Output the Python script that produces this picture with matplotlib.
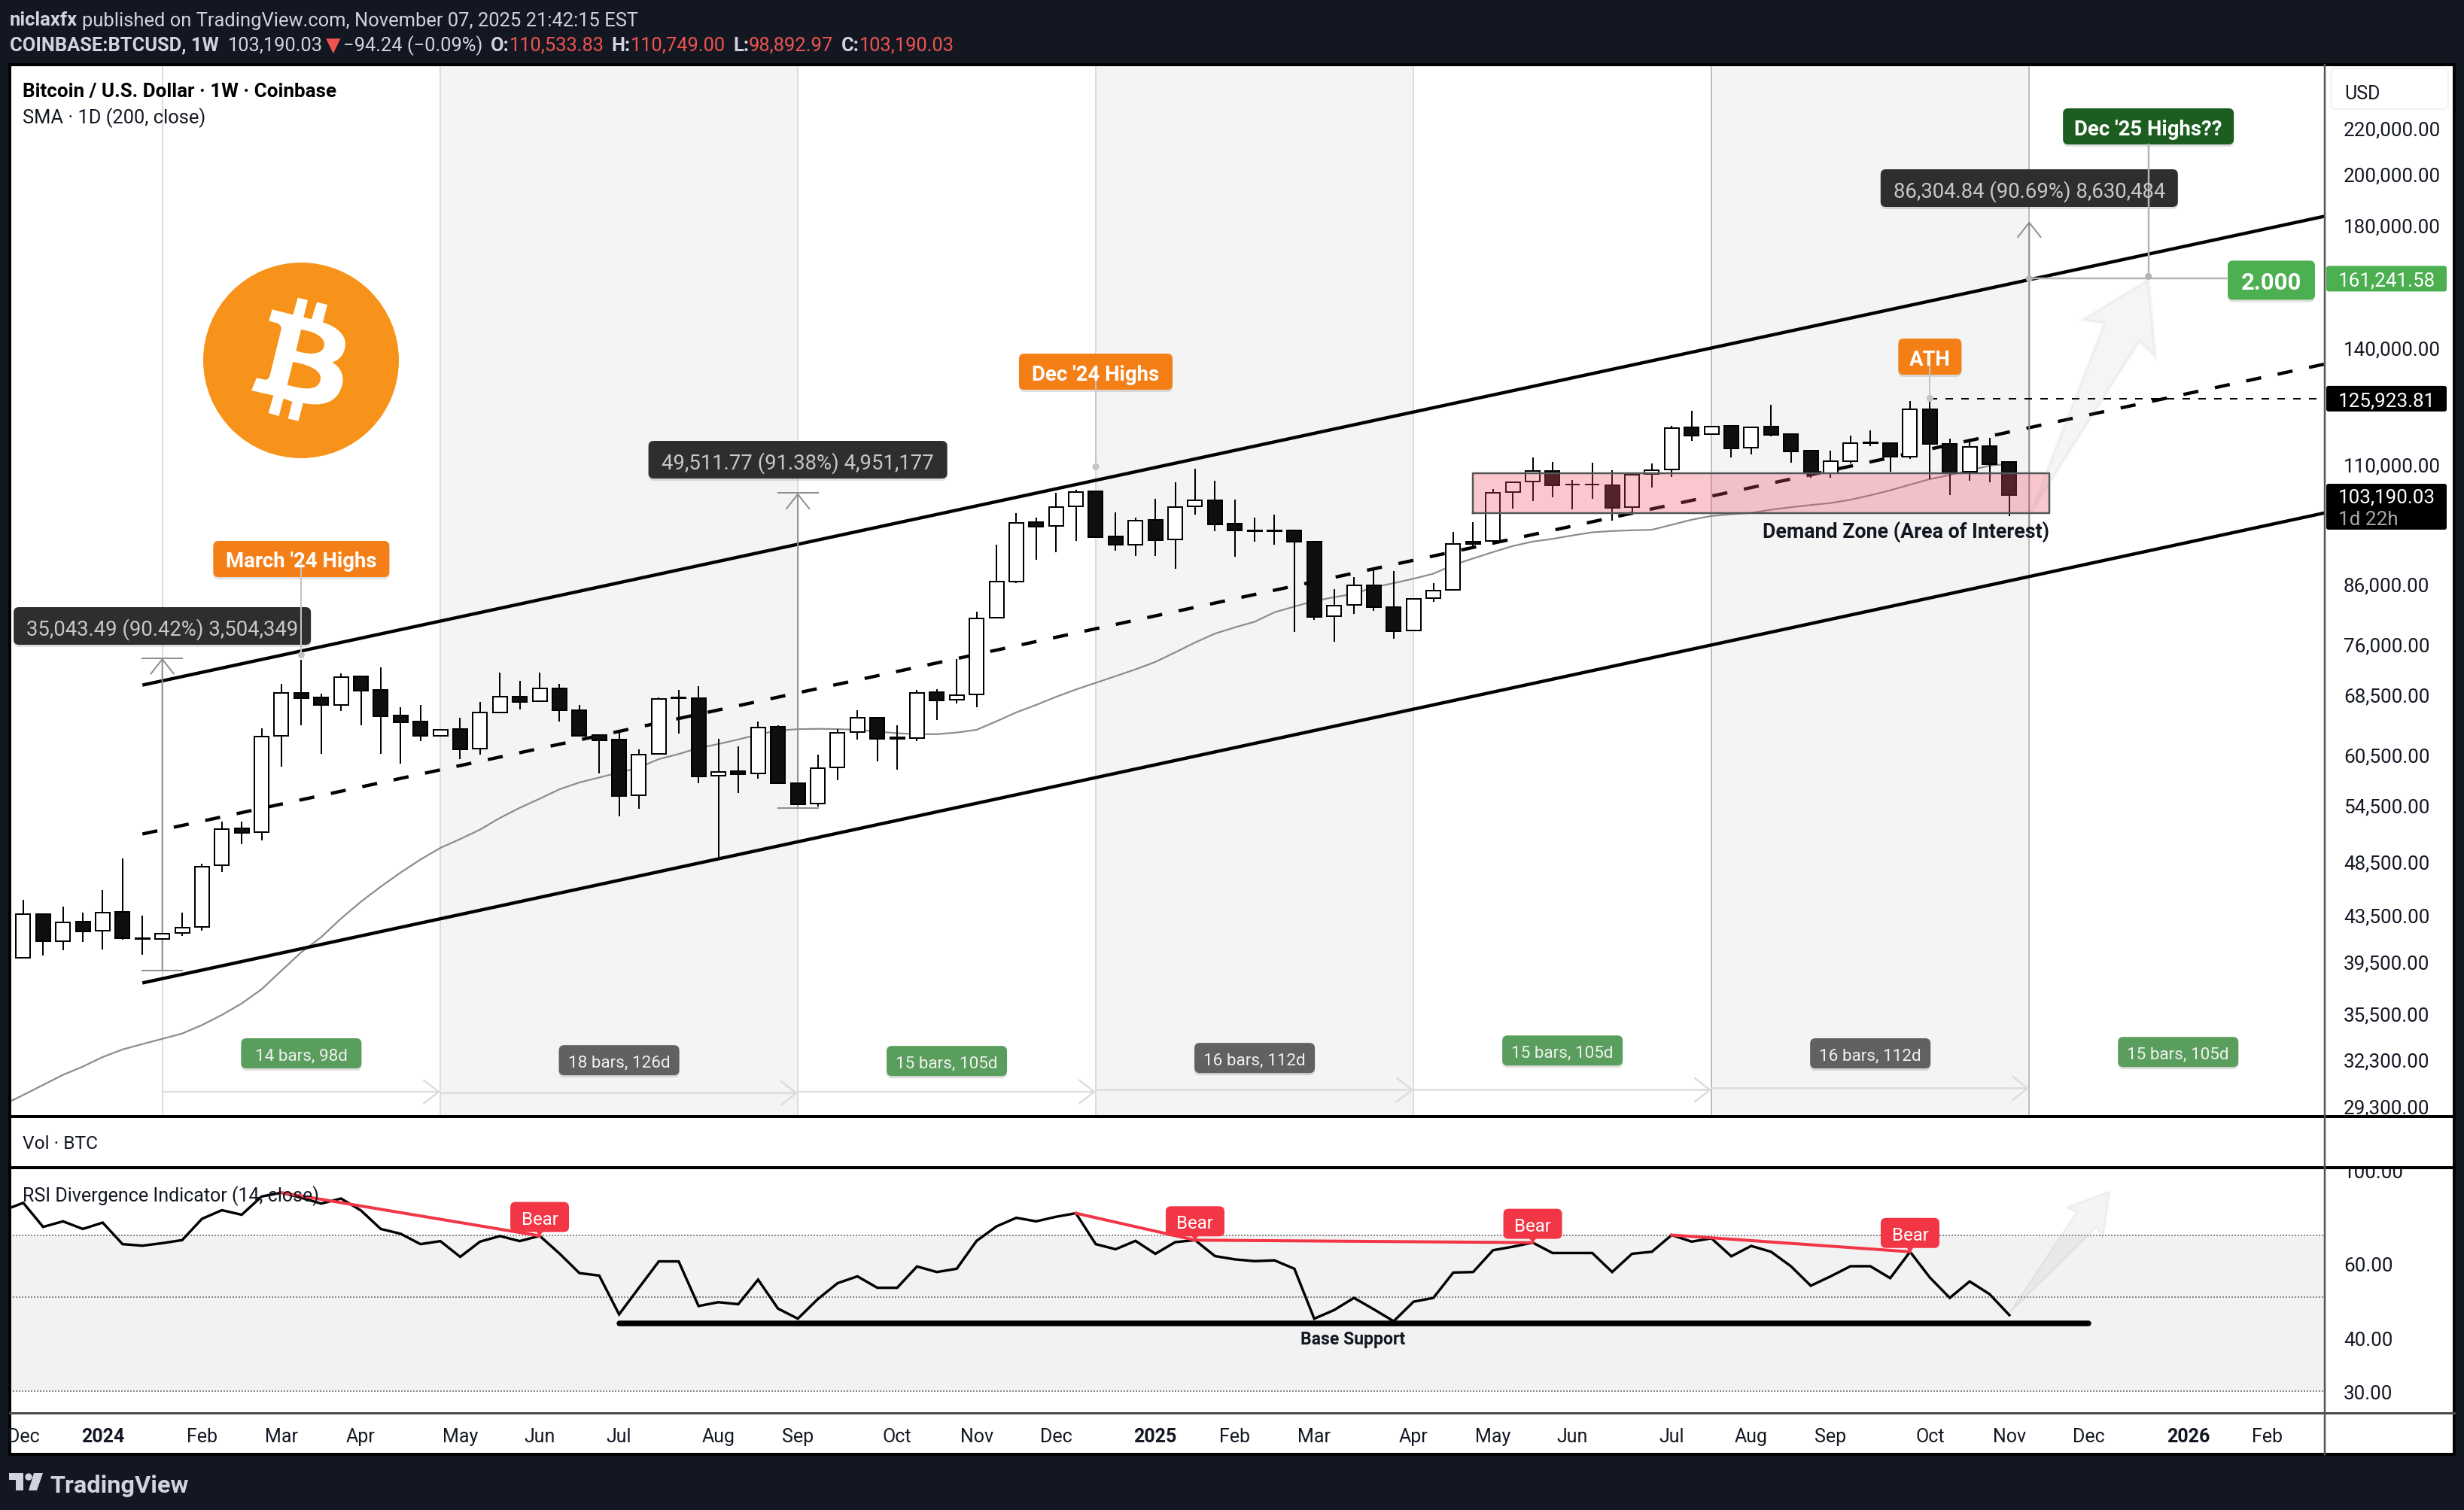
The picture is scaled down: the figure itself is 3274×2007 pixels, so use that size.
import matplotlib
matplotlib.use('Agg')
import matplotlib.pyplot as plt
from matplotlib.patches import FancyBboxPatch, Circle, Polygon, PathPatch
from matplotlib.path import Path
from matplotlib.ticker import NullLocator

plt.rcParams['font.family'] = ['Roboto', 'DejaVu Sans']

W, H = 3274, 2008
PX = 0.72  # px -> pt at dpi 100

# --- weekly candles, Dec 2023 to Nov 2025 ---
opens = [39780, 43520, 41170, 42840, 42060, 43710, 41460, 41370, 41870, 42400,
         48150, 51920, 51530, 62860, 68710, 68090, 66990, 71020, 69050, 65520,
         64700, 62860, 63700, 61220, 65930, 68180, 67500, 69350, 66290, 62940,
         62420, 55600, 60550, 67950, 67950, 57890, 58410, 58170, 64030, 57060,
         54660, 58900, 63330, 65290, 62510, 62560, 68730, 67700, 68450, 80130,
         86430, 97680, 96880, 100850, 104030, 94740, 93190, 98050, 94160, 100850,
         102170, 97270, 96050, 95780, 95920, 93840, 80390, 82300, 85770, 81970,
         78060, 83480, 84940, 93770, 93900, 103880, 106150, 108520, 105590, 105590,
         105330, 100680, 107800, 108760, 118630, 116980, 119000, 113840, 118810, 116980,
         113070, 108070, 110700, 114920, 114980, 111810, 123210, 114740, 108330, 114150,
         110533.83]
highs = [44810, 43520, 44190, 43650, 45750, 48860, 43380, 41870, 43680, 48280,
         52680, 52720, 63800, 69970, 73490, 68570, 71500, 71020, 72440, 66640,
         66950, 63700, 65200, 67410, 71650, 70350, 71650, 69970, 66950, 62950,
         63560, 61180, 68090, 69110, 69680, 62460, 61560, 64790, 64210, 57060,
         60430, 63770, 66240, 65290, 64220, 69070, 69210, 73600, 81190, 93130,
         99460, 98620, 103670, 104390, 104100, 99600, 98620, 102470, 106010, 108950,
         106290, 102240, 98550, 99180, 96050, 93970, 84990, 87210, 88720, 88300,
         83400, 86180, 95640, 97610, 104530, 106230, 111640, 110480, 106480, 110350,
         108650, 107800, 110130, 119000, 122810, 118900, 119310, 118700, 124340, 117100,
         113190, 113070, 116620, 117960, 115160, 125240, 125923.81, 115950, 115950, 116080,
         110749.00]
lows = [39700, 40000, 40390, 41090, 40500, 41290, 40050, 41310, 41640, 42100,
        47520, 50300, 50680, 59020, 64210, 60550, 66200, 64210, 60550, 59390,
        62200, 62800, 59950, 60510, 65930, 66380, 67400, 64790, 62900, 58160,
        53260, 54130, 60500, 63200, 56980, 48860, 55910, 57570, 57000, 54600,
        54320, 57370, 62340, 59600, 58660, 62210, 64960, 67240, 66660, 80020,
        86130, 90400, 91780, 93970, 94600, 92100, 91000, 91000, 88720, 99180,
        95860, 90920, 93840, 93130, 77900, 79770, 76350, 80800, 81360, 76830,
        78000, 82900, 84940, 92490, 93130, 100430, 101960, 102800, 100180, 102430,
        97980, 99150, 104900, 107140, 115480, 116900, 111590, 112310, 116500, 110350,
        106980, 106980, 110240, 114150, 108330, 111230, 106590, 103300, 106310, 106030,
        98892.97]
closes = [43520, 41150, 42780, 42040, 43680, 41430, 41340, 41810, 42340, 48020,
          51880, 51490, 62770, 68670, 67950, 66950, 70980, 69010, 65470, 64660,
          62820, 63650, 61180, 65980, 68130, 67450, 69300, 66290, 62900, 62330,
          55560, 60470, 67860, 68090, 57850, 58370, 58090, 63990, 57060, 54620,
          58810, 63290, 65240, 62510, 62650, 68690, 67650, 68360, 80070, 86370,
          97540, 96810, 100710, 103960, 94680, 93130, 97990, 94100, 100710, 102100,
          97200, 96050, 95780, 95990, 93840, 80340, 82190, 85710, 81970, 78010,
          83360, 84820, 93320, 93380, 103740, 106010, 108440, 105350, 105430, 105510,
          100530, 107690, 108700, 118570, 116740, 118880, 113720, 118690, 116920, 113010,
          107960, 110750, 114860, 115100, 111750, 123150, 114740, 108010, 114030, 110070,
          103190.03]

# SMA 1D (200), one reading per weekly bar, first one just left of the chart
sma = [29400, 29990, 30620, 31260, 31800, 32430, 32940, 33310, 33670, 34040, 34640,
       35370, 36220, 37290, 38750, 40250, 41520, 43140, 44660, 46070, 47430,
       48720, 49900, 50820, 51820, 53080, 54200, 55220, 56310, 57100, 57690,
       58280, 58890, 59920, 60550, 61300, 61810, 62390, 63030, 63560, 63730,
       63780, 63740, 63650, 63420, 63200, 63080, 63080, 63290, 63650, 64770,
       65980, 67000, 68120, 69160, 70120, 71090, 72090, 73200, 74660, 76190,
       77600, 78600, 79520, 81090, 82050, 83000, 83650, 84230, 85400, 86100,
       86900, 87800, 89400, 90600, 91800, 92950, 93800, 94330, 95000, 95620,
       95870, 96020, 96120, 97110, 98120, 98890, 99250, 99510, 100180, 100680,
       101140, 101560, 102250, 103200, 104260, 105480, 106700, 107590, 108650, 109680,
       110130]

# RSI 14 weekly, first one just left of the chart
rsi = [80.27, 83.66, 73.39, 75.65, 72.58, 75.13, 66.82, 66.26, 67.18, 68.30, 76.70,
       80.38, 78.41, 86.59, 88.40, 86.00, 83.32, 85.64, 80.27, 72.58, 70.71,
       66.82, 67.93, 62.36, 67.74, 69.83, 67.93, 69.92, 63.49, 57.09, 56.31,
       45.60, 52.70, 60.83, 60.83, 47.72, 48.72, 48.19, 55.08, 47.06, 44.54,
       49.53, 54.03, 56.08, 52.70, 52.70, 59.18, 57.41, 58.45, 68.02, 73.58,
       77.12, 75.65, 77.55, 79.06, 66.82, 65.00, 68.02, 63.40, 67.55, 68.30,
       62.62, 61.51, 60.92, 61.17, 58.45, 44.54, 46.68, 49.88, 46.87, 43.93,
       48.85, 49.88, 57.25, 57.41, 64.64, 65.90, 67.37, 63.67, 63.67, 63.67,
       57.41, 63.40, 64.11, 70.22, 67.74, 68.97, 62.54, 66.17, 64.11, 59.26,
       53.29, 56.08, 59.26, 59.26, 55.54, 64.11, 55.69, 49.88, 54.55, 50.92,
       45.41]

price_ticks = [220000, 200000, 180000, 140000, 110000, 86000, 76000, 68500,
               60500, 54500, 48500, 43500, 39500, 35500, 32300, 29300]
rsi_ticks = [100, 60, 40, 30]
rsi_bands = [70, 50, 30]

month_idx = [0, 4, 9, 13, 17, 22, 26, 30, 35, 39, 44, 48, 52, 57, 61, 65, 70, 74,
             78, 83, 87, 91, 96, 100, 104, 109, 113]
month_lbl = ['Dec', '2024', 'Feb', 'Mar', 'Apr', 'May', 'Jun', 'Jul', 'Aug', 'Sep',
             'Oct', 'Nov', 'Dec', '2025', 'Feb', 'Mar', 'Apr', 'May', 'Jun', 'Jul',
             'Aug', 'Sep', 'Oct', 'Nov', 'Dec', '2026', 'Feb']

# channel: start bar, end bar, then prices
chan_x = [6, 115.88]
chan_upper = [69790, 183400]
chan_mid = [51350, 135240]
chan_lower = [37780, 99520]

# vertical cycle lines and the range labels between them
cycle_x = [7, 21, 39, 54, 70, 85, 101, 116]
cycle_lbl = ['14 bars, 98d', '18 bars, 126d', '15 bars, 105d', '16 bars, 112d',
             '15 bars, 105d', '16 bars, 112d', '15 bars, 105d']
cycle_arrow_y = [30190, 30110, 30190, 30310, 30310, 30410, 30310]
cycle_lbl_y = [32680, 32220, 32170, 32370, 32870, 32680, 32770]
shade_x = [(21, 39), (54, 70), (85, 101)]

XMIN, XMAX = -0.678, 115.88


def make_ax(l, t, r, b, **kw):
    return fig.add_axes([l / W, 1 - b / H, (r - l) / W, (b - t) / H], **kw)


def clean(a):
    for s in a.spines.values():
        s.set_visible(False)
    a.set_xticks([])


fig = plt.figure(figsize=(W / 100, H / 100), dpi=100, facecolor='#131722')

bg = make_ax(13, 87, 3261, 1934, zorder=0)
bg.set_facecolor('white')
clean(bg)
bg.set_yticks([])

# --- RSI pane ---
ar = make_ax(13, 1553, 3089, 1879, zorder=1)
ar.set_facecolor('none')
clean(ar)
ar.set_yscale('log')
ar.set_xlim(XMIN, XMAX)
ar.set_ylim(26.67, 101.3)
ar.yaxis.tick_right()
ar.set_yticks(rsi_ticks)
ar.set_yticklabels([f'{v:.2f}' for v in rsi_ticks])
ar.yaxis.set_minor_locator(NullLocator())
ar.tick_params(axis='y', length=0, pad=18, labelsize=26 * PX, labelcolor='#131722')
ar.axhspan(30, 70, color='#f2f2f2', lw=0, zorder=1)
for v in rsi_bands:
    ar.axhline(v, color='#8a8a8a', lw=2 * PX, ls=(0, (1, 1)), zorder=2)
ar.plot(range(-1, 101), rsi, color='black', lw=3.4 * PX, zorder=4, solid_joinstyle='miter')
ar.plot([13, 26], [88.4, 69.92], color='#f23645', lw=4 * PX, zorder=5)
ar.plot([53, 59], [79.06, 68.3], color='#f23645', lw=4 * PX, zorder=5)
ar.plot([59, 76], [68.3, 67.37], color='#f23645', lw=4 * PX, zorder=5)
ar.plot([83, 95], [70.22, 64.11], color='#f23645', lw=4 * PX, zorder=5)
ar.plot([30, 104], [43.39, 43.39], color='black', lw=7.5 * PX, solid_capstyle='round', zorder=5)
ar.add_patch(Polygon(list(zip([100, 103.4, 102.85, 105.05, 104.7, 104.4],
                              [45.9, 79.7, 81.4, 89.0, 68.97, 73.39])),
                     fc=(0.6, 0.6, 0.6, 0.1), ec=(0.6, 0.6, 0.6, 0.1), lw=2, zorder=6))

# --- Vol pane, just white, sits on top so the 100.00 label gets cut ---
av = make_ax(13, 1485, 3261, 1553, zorder=2)
av.set_facecolor('white')
clean(av)
av.set_yticks([])

# --- main pane ---
ax = make_ax(13, 87, 3089, 1485, zorder=3)
ax.set_facecolor('none')
clean(ax)
ax.set_yscale('log')
ax.set_xlim(XMIN, XMAX)
ax.set_ylim(28690, 250600)
ax.yaxis.tick_right()
ax.set_yticks(price_ticks)
ax.set_yticklabels([f'{v:,.2f}' for v in price_ticks])
ax.yaxis.set_minor_locator(NullLocator())
ax.tick_params(axis='y', length=0, pad=18, labelsize=26 * PX, labelcolor='#131722')

for a, b in shade_x:
    ax.axvspan(a, b, color='#f4f4f4', lw=0, zorder=1)
for i, x in enumerate(cycle_x[:-1]):
    ax.axvline(x, color='#bdbdbd' if x in (85, 101) else '#dcdcdc', lw=2 * PX, zorder=2)

# range arrows
for i in range(len(cycle_lbl)):
    ax.annotate('', xy=(cycle_x[i + 1], cycle_arrow_y[i]), xytext=(cycle_x[i], cycle_arrow_y[i]),
                arrowprops=dict(arrowstyle='->,head_length=0.9,head_width=0.7', color='#dddddd',
                                lw=2.5 * PX, shrinkA=0, shrinkB=0, mutation_scale=16), zorder=2)

ax.plot(range(-1, 101), sma, color='#8c8c8c', lw=2.2 * PX, zorder=3)
ax.plot(chan_x, chan_upper, color='black', lw=4.4 * PX, zorder=4, solid_capstyle='butt')
ax.plot(chan_x, chan_lower, color='black', lw=4.4 * PX, zorder=4, solid_capstyle='butt')
ax.plot(chan_x, chan_mid, color='black', lw=4.4 * PX, zorder=4, dashes=(4.6, 5.1), dash_capstyle='butt')

# measure tools
measure_x = [7, 39, 101]
measure_lo = [38756, 54180, 95164]
measure_hi = [73800, 103692, 181469]
measure_lbl = ['35,043.49 (90.42%) 3,504,349', '49,511.77 (91.38%) 4,951,177',
               '86,304.84 (90.69%) 8,630,484']
for x, lo, hi in zip(measure_x, measure_lo, measure_hi):
    ax.annotate('', xy=(x, hi), xytext=(x, lo),
                arrowprops=dict(arrowstyle='->,head_length=0.7,head_width=0.55', color='#8f8f8f',
                                lw=2 * PX, shrinkA=0, shrinkB=0, mutation_scale=20), zorder=4)
for x, lo, hi in zip(measure_x[:2], measure_lo[:2], measure_hi[:2]):
    ax.plot([x - 1, x + 1], [lo, lo], color='#8f8f8f', lw=2 * PX, zorder=4)
    ax.plot([x - 1, x + 1], [hi, hi], color='#8f8f8f', lw=2 * PX, zorder=4)

# candles
idx = list(range(len(closes)))
ax.vlines(idx, lows, highs, color='black', lw=2 * PX, zorder=5)
for i in idx:
    up = closes[i] >= opens[i]
    lo, hi = min(opens[i], closes[i]), max(opens[i], closes[i])
    ax.bar(i, hi - lo, bottom=lo, width=0.72, facecolor='white' if up else '#0f0f0f',
           edgecolor='black', lw=2 * PX, zorder=6)

# ATH level and the fib level
ath = 125923.81
fib = 161241.58
ax.plot([96, XMAX], [ath, ath], color='black', lw=2 * PX, dashes=(5, 5.5), zorder=7)

# demand zone
zone_x = [73, 102]
zone_y = [99470, 107970]
ax.fill_between(zone_x, zone_y[0], zone_y[1], facecolor='#ef4d67', alpha=0.31, lw=0, zorder=8)
ax.plot([zone_x[0], zone_x[1], zone_x[1], zone_x[0], zone_x[0]],
        [zone_y[0], zone_y[0], zone_y[1], zone_y[1], zone_y[0]], color='#555555', lw=2.5 * PX, zorder=8)

# big ghost arrow
ax.add_patch(Polygon(list(zip([101.06, 104.8, 103.7, 107.0, 107.35, 106.55],
                              [99520, 147160, 148170, 160800, 137320, 141860])),
                     fc=(0.6, 0.6, 0.6, 0.09), ec=(0.6, 0.6, 0.6, 0.09), lw=3, zorder=9))

# --- overlay in pixels for texts, tags and frame ---
ov = make_ax(0, 0, W, H, zorder=5)
ov.set_facecolor('none')
clean(ov)
ov.set_yticks([])
ov.set_xlim(0, W)
ov.set_ylim(H, 0)
rend = fig.canvas.get_renderer()


def px(a, x, y):
    d = a.transData.transform((x, y))
    return d[0], H - d[1]


def txt(x, y, s, size=26, color='#131722', weight='normal', ha='left', **kw):
    return ov.text(x, y, s, fontsize=size * PX, color=color, fontweight=weight, ha=ha,
                   va='center_baseline', **kw)


def pill(cx, cy, w, h, fc, s, tc='white', size=26, weight='normal', shadow=True, r=7):
    if shadow:
        ov.add_patch(FancyBboxPatch((cx - w / 2 + r, cy - h / 2 + r + 3), w - 2 * r, h - 2 * r,
                                    boxstyle=f'round,pad={r},rounding_size={r}',
                                    fc=(0, 0, 0, 0.12), ec='none'))
    ov.add_patch(FancyBboxPatch((cx - w / 2 + r, cy - h / 2 + r), w - 2 * r, h - 2 * r,
                                boxstyle=f'round,pad={r},rounding_size={r}', fc=fc, ec='none'))
    txt(cx, cy, s, size, tc, weight, ha='center')


def runs(x, y, parts, size=25.5):
    for s, color, weight, gap in parts:
        t = txt(x, y, s, size, color, weight)
        x += t.get_window_extent(rend).width + gap


# frame
ov.plot([13, 3261, 3261, 13, 13], [87, 87, 1934, 1934, 87], color='black', lw=4 * PX, zorder=1)
ov.plot([13, 3261], [1485, 1485], color='black', lw=4 * PX, zorder=1)
ov.plot([13, 3261], [1553, 1553], color='black', lw=4 * PX, zorder=1)
ov.plot([13, 3261], [1879, 1879], color='#4a4a4a', lw=3 * PX, zorder=1)
ov.plot([3089, 3089], [87, 1934], color='#555555', lw=2.5 * PX, zorder=1)

# header
LT = '#d1d4dc'
RED = '#ef5350'
runs(13, 25, [('niclaxfx', LT, 'bold', 6), ('published on TradingView.com, November 07, 2025 21:42:15 EST', LT, 'normal', 0)])
runs(13, 58, [('COINBASE:BTCUSD, 1W', LT, 'bold', 12), ('103,190.03', LT, 'normal', 4), ('▼', RED, 'normal', 4),
              ('−94.24 (−0.09%)', LT, 'normal', 10), ('O:', LT, 'bold', 0), ('110,533.83', RED, 'normal', 10),
              ('H:', LT, 'bold', 0), ('110,749.00', RED, 'normal', 10), ('L:', LT, 'bold', 0),
              ('98,892.97', RED, 'normal', 10), ('C:', LT, 'bold', 0), ('103,190.03', RED, 'normal', 0)])

# pane titles
txt(30, 120, 'Bitcoin / U.S. Dollar · 1W · Coinbase', 26, 'black', 'bold')
txt(30, 154, 'SMA · 1D (200, close)', 25.5, '#131722')
txt(30, 1518, 'Vol · BTC', 24.5, '#131722')
txt(30, 1587, 'RSI Divergence Indicator (14, close)', 25, '#131722')

# time axis, clipped at the left border
for i, s in zip(month_idx, month_lbl):
    x = px(ax, i, 100000)[0]
    t = txt(x, 1908, s, 25, '#131722', 'bold' if s.startswith('20') else 'normal', ha='center')
    t.set_clip_path(plt.Rectangle((13, 1880), 3076, 54, transform=ov.transData))

# bitcoin logo, no installed font has the sign so it is a shape
ov.add_patch(Circle((400, 480), 130, fc='#f7931a', ec='none'))
M, L, C4, Z = Path.MOVETO, Path.LINETO, Path.CURVE4, Path.CLOSEPOLY
btc = [
    (M, 305, 217), (L, 388, 238), (L, 407, 170), (L, 447, 180), (L, 430, 248), (L, 462, 256),
    (L, 483, 188), (L, 525, 198), (L, 507, 268),
    (C4, 570, 288), (C4, 605, 325), (C4, 595, 370),
    (C4, 590, 400), (C4, 570, 420), (C4, 543, 428),
    (C4, 580, 445), (C4, 597, 490), (C4, 580, 530),
    (C4, 560, 590), (C4, 500, 605), (C4, 428, 590),
    (L, 410, 662), (L, 368, 652), (L, 385, 585), (L, 350, 572), (L, 332, 642), (L, 290, 630),
    (L, 310, 560), (L, 222, 540), (L, 243, 490), (L, 275, 497),
    (C4, 288, 498), (C4, 293, 490), (C4, 296, 480),
    (L, 340, 300), (C4, 344, 285), (C4, 335, 272), (C4, 318, 270), (L, 292, 262), (Z, 305, 217),
    (M, 420, 297), (L, 400, 382),
    (C4, 440, 395), (C4, 495, 402), (C4, 510, 370),
    (C4, 522, 340), (C4, 495, 308), (C4, 420, 297), (Z, 420, 297),
    (M, 388, 426), (L, 365, 518),
    (C4, 410, 530), (C4, 480, 548), (C4, 495, 505),
    (C4, 510, 470), (C4, 470, 440), (C4, 388, 426), (Z, 388, 426),
]
ov.add_patch(PathPatch(Path([(260 + p[1] / 3, 340 + p[2] / 3) for p in btc], [p[0] for p in btc]),
                       fc='white', ec='none'))

# footer logo
ov.add_patch(Polygon([(12, 1959), (31, 1959), (31, 1982), (21, 1982), (21, 1968), (12, 1968)], fc=LT, ec='none'))
ov.add_patch(Circle((38, 1964), 4.7, fc=LT, ec='none'))
ov.add_patch(Polygon([(45, 1959), (57, 1959), (49, 1982), (38, 1982)], fc=LT, ec='none'))
txt(66, 1972, 'TradingView', 32.5, LT, 'bold')

# callouts with their dots
callout_x = [14, 54, 96]
callout_y = [74260, 109440, 126000]
callout_lbl = ["March '24 Highs", "Dec '24 Highs", 'ATH']
callout_box = [(234, 48, 744), (204, 48, 495), (84, 48, 475)]
for x, y, s, (w, h, cy) in zip(callout_x, callout_y, callout_lbl, callout_box):
    cx, ty = px(ax, x, y)
    ov.plot([cx, cx], [cy, ty], color='#c4c4c4', lw=2 * PX, zorder=2)
    ov.add_patch(Circle((cx, ty), 4.5, fc='#c4c4c4', ec='none', zorder=2))
    pill(cx, cy, w, h, '#f57f17', s, weight='bold', size=27.5)

# fib target
fx, fy = px(ax, 107, fib)
lx = px(ax, 101, fib)[0]
ov.plot([lx, 2960], [fy, fy], color='#b4b4b4', lw=2.5 * PX, zorder=2)
ov.plot([fx, fx], [193, fy], color='#b4b4b4', lw=2.5 * PX, zorder=2)
ov.add_patch(Circle((fx, fy - 3), 4.5, fc='#b4b4b4', ec='none', zorder=2))
ov.add_patch(Circle((lx, fy), 4.5, fc='#b4b4b4', ec='none', zorder=2))
pill(fx, 169, 227, 48, '#1b5e20', "Dec '25 Highs??", weight='bold', size=27.5)
pill(3018, fy + 2, 116, 52, '#4caf50', '2.000', weight='bold', size=31)

# measure labels
for x, y, s, w in zip(measure_x, [833, 612, 251], measure_lbl, [395, 397, 395]):
    pill(px(ax, x, 100000)[0], y, w, 50, '#2e2e2e', s, tc='#c8c8c8', size=27.5)

# range labels
for i, s in enumerate(cycle_lbl):
    cx = px(ax, (cycle_x[i] + cycle_x[i + 1]) / 2, 100000)[0]
    cy = px(ax, 0, cycle_lbl_y[i])[1]
    pill(cx, cy, 160, 40, '#5a9e5d' if i % 2 == 0 else '#616161', s, tc='#f0f0f0', size=22.5)

txt(2533, 704, 'Demand Zone (Area of Interest)', 26.8, '#131722', 'bold', ha='center')
txt(1798, 1778, 'Base Support', 23, '#131722', 'bold', ha='center')

# Bear labels
bear_x = [26, 59, 76, 95]
bear_y = [69.92, 68.3, 67.37, 64.11]
for x, y in zip(bear_x, bear_y):
    cx, ty = px(ar, x, y)
    ov.add_patch(Polygon([(cx - 5, ty - 6), (cx + 5, ty - 6), (cx, ty)], fc='#f23645', ec='none', zorder=3))
    pill(cx, ty - 25, 78, 40, '#f23645', 'Bear', size=24, shadow=False)

# price scale tags
ov.add_patch(FancyBboxPatch((3100, 95), 150, 48, boxstyle='round,pad=3,rounding_size=6', fc='white', ec='#eeeeee'))
txt(3115, 122, 'USD', 25, '#131722')
tag_y = [fib, ath]
tag_c = ['#4caf50', 'black']
for v, c in zip(tag_y, tag_c):
    cy = px(ax, 0, v)[1]
    ov.add_patch(FancyBboxPatch((3091, cy - 17), 160, 34, boxstyle='round,pad=0,rounding_size=3', fc=c, ec='none'))
    txt(3107, cy, f'{v:,.2f}', 26, 'white')
ov.add_patch(FancyBboxPatch((3091, 644), 160, 61, boxstyle='round,pad=0,rounding_size=3', fc='black', ec='none'))
txt(3107, 659, f'{closes[-1]:,.2f}', 26, 'white')
txt(3107, 689, '1d 22h', 26, '#a8a8a8')

fig.savefig('out.png', dpi=100, facecolor=fig.get_facecolor())
